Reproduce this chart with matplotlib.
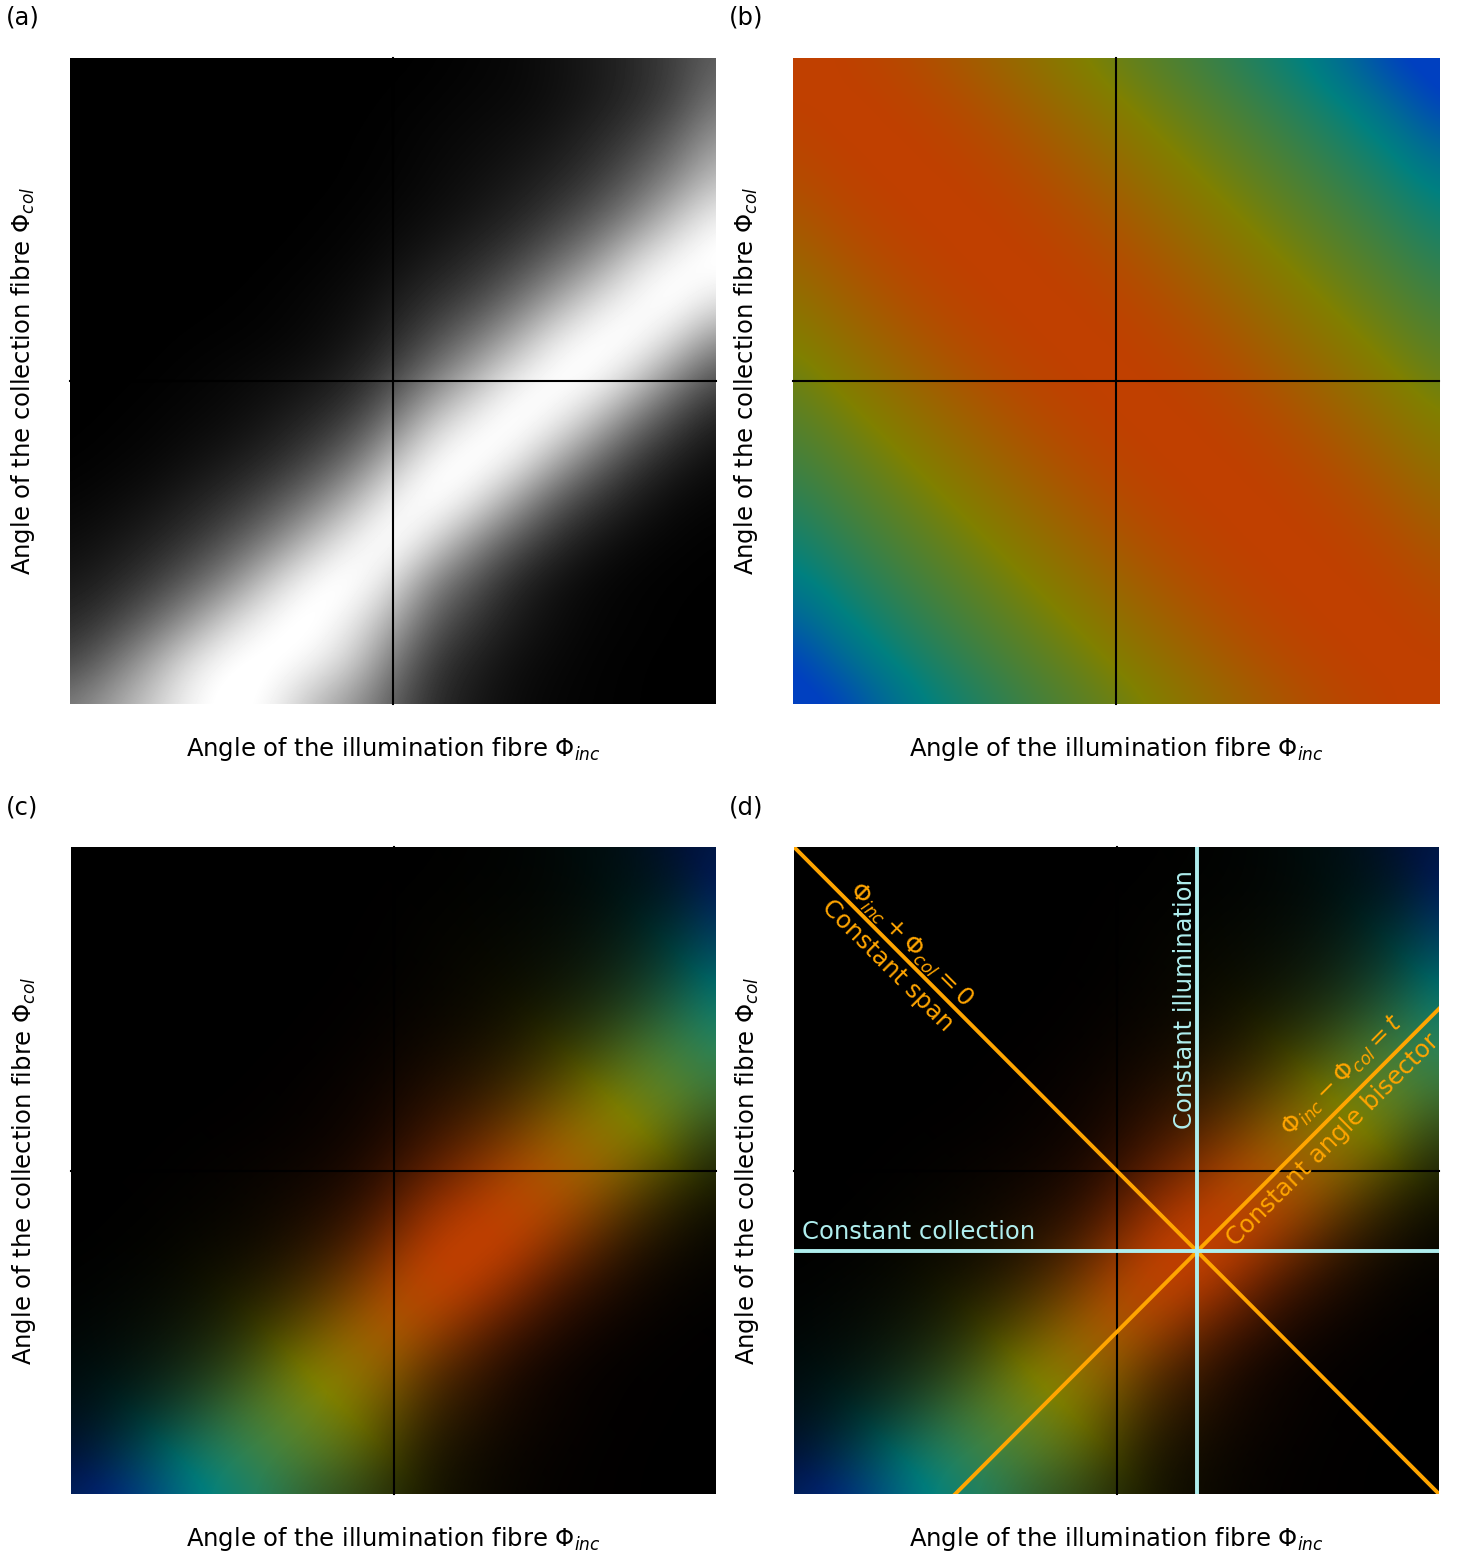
import matplotlib
matplotlib.use("Agg")
import matplotlib.pyplot as plt
from matplotlib.colors import LinearSegmentedColormap

#Brightness, top row first, 17 nodes across and down
#values just over 1 keep the white ridge flat once the image is smoothed
brightness = [
    [0, 0, 0, 0, 0, 0, 0, 0, 0, .005, .015, .03, .06, .10, .16, .25, .37],
    [0, 0, 0, 0, 0, 0, 0, 0, .005, .012, .025, .035, .06, .10, .16, .26, .46],
    [0, 0, 0, 0, 0, 0, 0, .003, .01, .025, .04, .06, .09, .15, .24, .39, .60],
    [0, 0, 0, 0, 0, 0, 0, .005, .015, .035, .06, .09, .14, .22, .36, .54, .76],
    [0, 0, 0, 0, 0, 0, .004, .012, .03, .055, .09, .14, .23, .36, .54, .78, .96],
    [0, 0, 0, 0, 0, .003, .01, .025, .055, .10, .16, .25, .40, .58, .84, .98, 1.04],
    [0, 0, 0, 0, .003, .01, .025, .05, .10, .18, .27, .43, .64, .86, .99, 1.04, .90],
    [0, 0, 0, .005, .01, .02, .04, .08, .16, .30, .47, .68, .92, 1.02, 1.02, .84, .56],
    [0, 0, .005, .015, .03, .05, .08, .14, .28, .50, .72, .94, 1.03, 1.0, .80, .50, .28],
    [0, .005, .015, .03, .05, .09, .15, .25, .48, .78, .96, 1.04, .96, .74, .46, .25, .12],
    [.005, .015, .03, .06, .10, .16, .27, .45, .74, .99, 1.04, .94, .68, .42, .22, .11, .05],
    [.02, .04, .07, .12, .19, .31, .48, .72, .97, 1.04, .90, .63, .36, .20, .10, .04, .02],
    [.05, .08, .13, .21, .34, .52, .76, .96, 1.04, .84, .56, .33, .17, .08, .035, .015, .005],
    [.09, .14, .23, .37, .56, .82, 1.0, 1.04, .86, .52, .32, .15, .07, .03, .012, .005, .002],
    [.16, .25, .41, .62, .86, 1.0, 1.04, .92, .66, .35, .20, .10, .05, .02, .01, .003, 0],
    [.27, .44, .66, .90, 1.02, 1.03, .96, .80, .48, .22, .12, .06, .03, .012, .005, 0, 0],
    [.48, .63, .80, .97, 1.04, .96, .74, .58, .36, .17, .09, .045, .02, .01, .004, 0, 0],
]

#Colour position: 0 red, 1 olive, 2 teal, 3 blue
hue = [
    [0, 0, .08, .20, .38, .58, .78, .98, 1.18, 1.34, 1.50, 1.68, 1.88, 2.10, 2.50, 3.05, 3.20],
    [0, 0, 0, .08, .20, .38, .58, .78, .98, 1.18, 1.34, 1.50, 1.68, 1.88, 2.10, 2.50, 3.05],
    [.08, 0, 0, 0, .08, .20, .38, .58, .78, .98, 1.18, 1.34, 1.50, 1.68, 1.88, 2.10, 2.50],
    [.20, .08, 0, 0, 0, .08, .20, .38, .58, .78, .98, 1.18, 1.34, 1.50, 1.68, 1.88, 2.10],
    [.38, .20, .08, 0, 0, 0, .08, .20, .38, .58, .78, .98, 1.18, 1.34, 1.50, 1.68, 1.88],
    [.58, .38, .20, .08, 0, 0, 0, .08, .20, .38, .58, .78, .98, 1.18, 1.34, 1.50, 1.68],
    [.78, .58, .38, .20, .08, 0, 0, 0, .08, .20, .38, .58, .78, .98, 1.18, 1.34, 1.50],
    [.98, .78, .58, .38, .20, .08, 0, 0, 0, .08, .20, .38, .58, .78, .98, 1.18, 1.34],
    [1.18, .98, .78, .58, .38, .20, .08, 0, 0, 0, .08, .20, .38, .58, .78, .98, 1.18],
    [1.34, 1.18, .98, .78, .58, .38, .20, .08, 0, 0, 0, .08, .20, .38, .58, .78, .98],
    [1.50, 1.34, 1.18, .98, .78, .58, .38, .20, .08, 0, 0, 0, .08, .20, .38, .58, .78],
    [1.68, 1.50, 1.34, 1.18, .98, .78, .58, .38, .20, .08, 0, 0, 0, .08, .20, .38, .58],
    [1.88, 1.68, 1.50, 1.34, 1.18, .98, .78, .58, .38, .20, .08, 0, 0, 0, .08, .20, .38],
    [2.10, 1.88, 1.68, 1.50, 1.34, 1.18, .98, .78, .58, .38, .20, .08, 0, 0, 0, .08, .20],
    [2.50, 2.10, 1.88, 1.68, 1.50, 1.34, 1.18, .98, .78, .58, .38, .20, .08, 0, 0, 0, .08],
    [3.05, 2.50, 2.10, 1.88, 1.68, 1.50, 1.34, 1.18, .98, .78, .58, .38, .20, .08, 0, 0, 0],
    [3.20, 3.05, 2.50, 2.10, 1.88, 1.68, 1.50, 1.34, 1.18, .98, .78, .58, .38, .20, .08, 0, 0],
]

panel_names = ['(a)', '(b)', '(c)', '(d)']
x_title = r'Angle of the illumination fibre $\Phi_{inc}$'
y_title = r'Angle of the collection fibre $\Phi_{col}$'

#Lines drawn on panel (d)
span_x = [-1, 1]
span_y = [1, -1]
bisector_x = [-0.5, 1]
bisector_y = [-1, 0.5]
constant_inc = 0.25
constant_col = -0.25

W, H = 1458, 1553
FONT = 17.45
ORANGE = '#FFA500'
PALE = '#AFEEEE'

hue_cmap = LinearSegmentedColormap.from_list('hue', ['#C04000', '#808000', '#008080', '#0040C0'])
#black that fades out as brightness goes up, laid over the colours for (c) and (d)
shade_cmap = LinearSegmentedColormap.from_list('shade', [(0, 0, 0, 1), (0, 0, 0, 0)])

half = 1 / 16
extent = (-1 - half, 1 + half, -1 - half, 1 + half)

fig = plt.figure(figsize=(W / 100, H / 100), dpi=100)


def make_axes(left, top, right, bottom, name, name_x):
    ax = fig.add_axes([left / W, 1 - bottom / H, (right - left) / W, (bottom - top) / H])
    for spine in ax.spines.values():
        spine.set_visible(False)
    ax.set_xticks([])
    ax.set_yticks([])
    ax.set_xlabel(x_title, fontsize=FONT, labelpad=22)
    ax.set_ylabel(y_title, fontsize=FONT, labelpad=23.5)
    fig.text(name_x / W, 1 - (top - 40) / H, name, fontsize=FONT, ha='left', va='center')
    return ax


def show_image(ax, values, **kwargs):
    ax.imshow(values, extent=extent, interpolation='bicubic', interpolation_stage='data',
              aspect='auto', **kwargs)


def finish(ax):
    ax.axvline(0, color='black', lw=1.5, zorder=3, clip_on=False)
    ax.axhline(0, color='black', lw=1.5, zorder=3, clip_on=False)
    ax.set_xlim(-1, 1)
    ax.set_ylim(-1, 1)


ax_a = make_axes(70, 58, 716, 704, panel_names[0], 6)
show_image(ax_a, brightness, cmap='gray', vmin=0, vmax=1)
finish(ax_a)

ax_b = make_axes(793, 58, 1439, 704, panel_names[1], 729)
show_image(ax_b, hue, cmap=hue_cmap, vmin=0, vmax=3)
finish(ax_b)

ax_c = make_axes(71, 847, 716, 1494, panel_names[2], 6)
show_image(ax_c, hue, cmap=hue_cmap, vmin=0, vmax=3)
show_image(ax_c, brightness, cmap=shade_cmap, vmin=0, vmax=1)
finish(ax_c)

ax_d = make_axes(794, 847, 1439, 1494, panel_names[3], 729)
show_image(ax_d, hue, cmap=hue_cmap, vmin=0, vmax=3)
show_image(ax_d, brightness, cmap=shade_cmap, vmin=0, vmax=1)
finish(ax_d)
ax_d.plot(span_x, span_y, color=ORANGE, lw=2.8, zorder=4)
ax_d.plot(bisector_x, bisector_y, color=ORANGE, lw=2.8, zorder=4)
ax_d.axvline(constant_inc, color=PALE, lw=2.8, zorder=4)
ax_d.axhline(constant_col, color=PALE, lw=2.8, zorder=4)

#Labels on panel (d)
ax_d.text(-0.71, 0.635, 'Constant span', color=ORANGE, fontsize=FONT, rotation=-45,
          ha='center', va='center', rotation_mode='anchor')
ax_d.text(-0.640, 0.698, r'$\Phi_{inc} + \Phi_{col} = 0$', color=ORANGE, fontsize=FONT, rotation=-45,
          ha='center', va='center', rotation_mode='anchor')
ax_d.text(0.70, 0.293, r'$\Phi_{inc} - \Phi_{col} = t$', color=ORANGE, fontsize=FONT, rotation=45,
          ha='center', va='center', rotation_mode='anchor')
ax_d.text(0.670, 0.094, 'Constant angle bisector', color=ORANGE, fontsize=FONT, rotation=45,
          ha='center', va='center', rotation_mode='anchor')
ax_d.text(-0.615, -0.190, 'Constant collection', color=PALE, fontsize=FONT,
          ha='center', va='center')
ax_d.text(0.212, 0.528, 'Constant illumination', color=PALE, fontsize=FONT, rotation=90,
          ha='center', va='center')

fig.savefig('out.png', dpi=100)
